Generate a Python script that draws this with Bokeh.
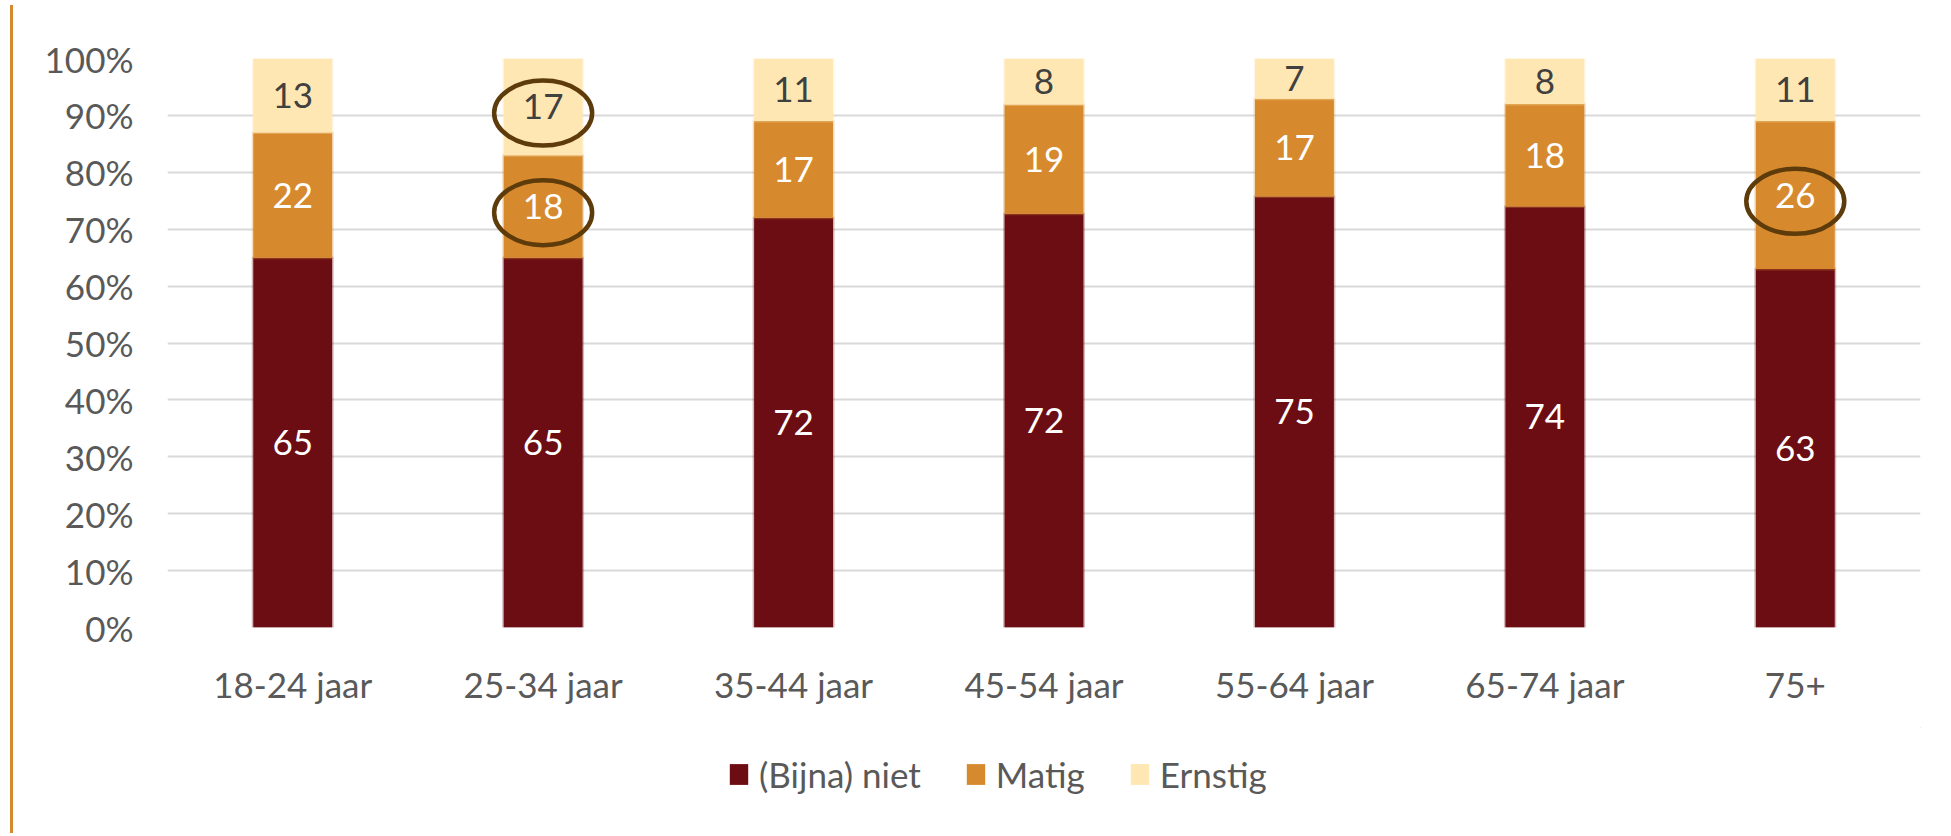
from bokeh.plotting import figure
from bokeh.models import (ColumnDataSource, FactorRange, Range1d, FixedTicker, Legend, LegendItem,
                          Div, Spacer)
from bokeh.layouts import row, column
from bokeh.core.properties import value
from bokeh.embed import file_html
from bokeh.resources import INLINE

categories = ["18-24 jaar", "25-34 jaar", "35-44 jaar", "45-54 jaar", "55-64 jaar", "65-74 jaar", "75+"]
series_names = ["(Bijna) niet", "Matig", "Ernstig"]
bijna_niet = [65, 65, 72, 72, 75, 74, 63]
matig = [22, 18, 17, 19, 17, 18, 26]
ernstig = [13, 17, 11, 8, 7, 8, 11]
y_ticks = [0, 10, 20, 30, 40, 50, 60, 70, 80, 90, 100]
y_tick_labels = ["0%", "10%", "20%", "30%", "40%", "50%", "60%", "70%", "80%", "90%", "100%"]
# highlighted (circled) labels: (category index, series index)
highlights = [(1, 2), (1, 1), (6, 1)]

colors = ["#6C0D13", "#D68A2D", "#FFE7B3"]
label_colors = ["white", "white", "#404040"]
FONT = "Lato"
FS = "35px"
GRAY = "#595959"

W, H1, H2 = 1927, 727, 100

# normalise to 100% stacked (as the source chart does)
series = [bijna_niet, matig, ernstig]
totals = [sum(v) for v in zip(*series)]
norm = [[v / t * 100 for v, t in zip(s, totals)] for s in series]

p = figure(x_range=FactorRange(*categories, range_padding=0), y_range=Range1d(0, 100),
           width=W, height=H1, output_backend="svg", toolbar_location=None,
           min_border_left=149, min_border_right=25, min_border_top=58, min_border_bottom=100)
p.outline_line_color = None

bottoms = [0.0] * len(categories)
label_pos = []
for i, s in enumerate(norm):
    tops = [b + v for b, v in zip(bottoms, s)]
    src = ColumnDataSource(dict(x=categories, bottom=bottoms, top=tops))
    p.vbar(x="x", bottom="bottom", top="top", width=0.315, source=src,
           fill_color=colors[i], line_color=colors[i], line_alpha=0.3, line_width=3)
    mids = [(b + t) / 2 for b, t in zip(bottoms, tops)]
    label_pos.append(mids)
    lsrc = ColumnDataSource(dict(x=categories, y=mids, t=[str(v) for v in series[i]]))
    p.text(x="x", y="y", text="t", source=lsrc, text_align="center", text_baseline="middle",
           text_font=value(FONT), text_font_size=FS, text_color=label_colors[i])
    bottoms = tops

# circles around highlighted labels
ex = [categories[c] for c, s in highlights]
ey = [label_pos[s][c] - 1.1 for c, s in highlights]
p.ellipse(x=ex, y=ey, width=98, height=65, width_units="screen", height_units="screen",
          fill_color=None, line_color="#5E3B0B", line_width=4.5)

# axes
p.yaxis.ticker = FixedTicker(ticks=y_ticks)
p.yaxis.major_label_overrides = {t: l for t, l in zip(y_ticks, y_tick_labels)}
for ax in (p.xaxis[0], p.yaxis[0]):
    ax.axis_line_color = None
    ax.major_tick_line_color = None
    ax.minor_tick_line_color = None
    ax.major_tick_out = 0
    ax.major_tick_in = 0
    ax.major_label_text_font = FONT
    ax.major_label_text_font_size = FS
    ax.major_label_text_color = GRAY
p.yaxis.major_label_standoff = 34
p.xaxis.major_label_standoff = 35
p.xgrid.grid_line_color = None
p.ygrid.ticker = FixedTicker(ticks=y_ticks)
p.ygrid.grid_line_color = "#D9D9D9"
p.ygrid.grid_line_width = 2

# legend figure (separate, so the legend is not clipped); swatch renderers lie outside its view
p2 = figure(x_range=Range1d(0, 1), y_range=Range1d(0, 1), width=W, height=H2,
            output_backend="svg", toolbar_location=None, x_axis_type=None, y_axis_type=None,
            min_border=0)
p2.outline_line_color = None
p2.grid.visible = False
lrs = [p2.vbar(x=[5], bottom=[5], top=[6], width=0.1, fill_color=c, line_color=None) for c in colors]
legend = Legend(items=[LegendItem(label=n, renderers=[r]) for n, r in zip(series_names, lrs)],
                orientation="horizontal", location=(560, 32),
                glyph_width=23, glyph_height=26, label_standoff=9, spacing=43,
                padding=0, margin=0, border_line_color=None, background_fill_alpha=0,
                label_text_font=FONT, label_text_font_size=FS, label_text_color=GRAY)
p2.add_layout(legend, "center")

orange_line = Div(width=3, height=828, styles={"background-color": "#D68A2E"})
layout = row(Spacer(width=5, height=H1 + H2), orange_line, column(p, p2, spacing=0), spacing=0)

open("out.html", "w").write(file_html(layout, INLINE))
